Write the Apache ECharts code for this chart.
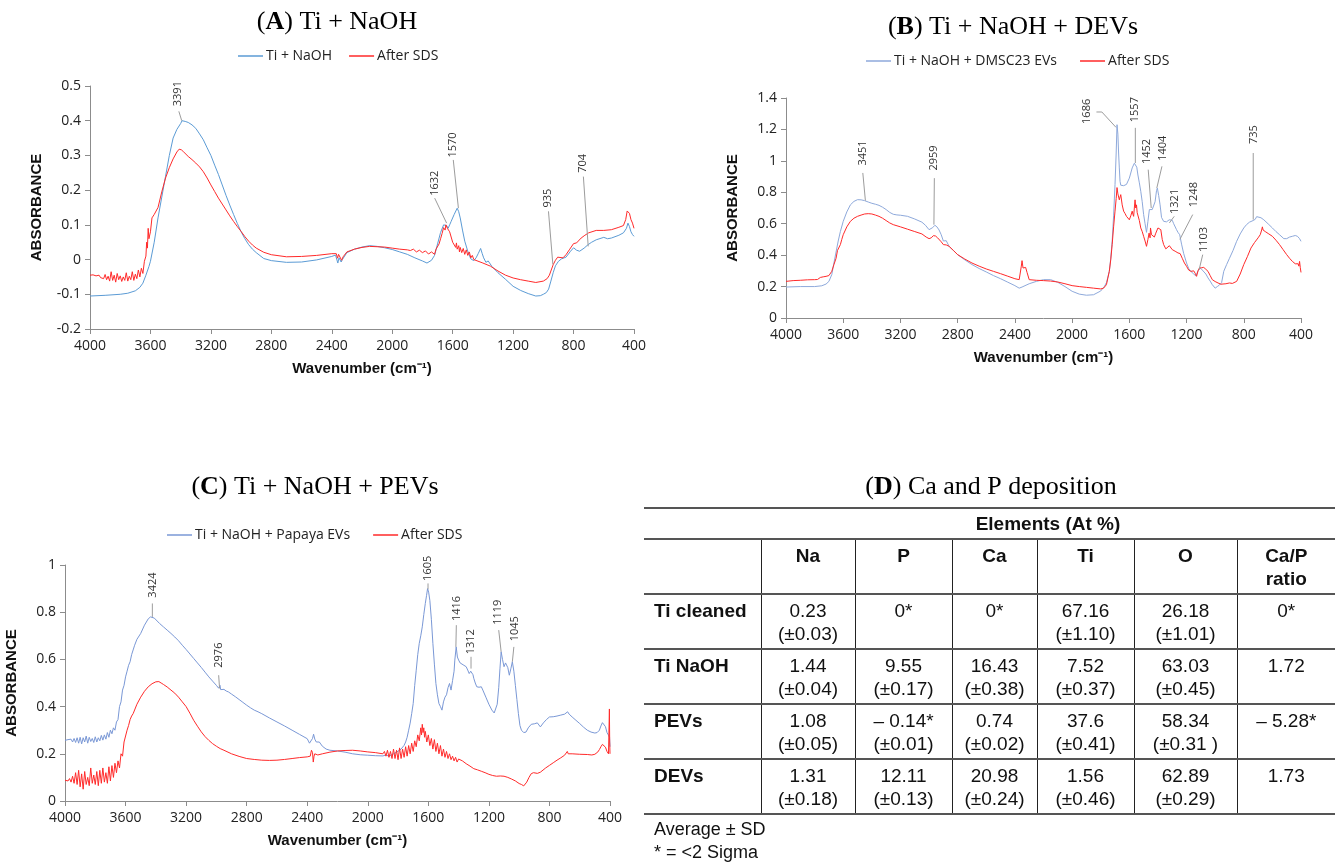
<!DOCTYPE html>
<html>
<head>
<meta charset="utf-8">
<script src="https://cdn.jsdelivr.net/npm/echarts@6/dist/echarts.min.js"></script>
<style>
  html, body { margin: 0; padding: 0; background: #fff; }
  #chart { position: absolute; left: 0; top: 0; width: 1335px; height: 864px; }
  #tbl { position: absolute; left: 644px; top: 507px; border-collapse: collapse;
         font-family: 'Liberation Sans', Arial, sans-serif; font-size: 19px; color: #111; }
  #tbl td { padding: 4px 0 0 0; vertical-align: top; text-align: center; line-height: 23px;
            border-top: 2px solid #555; border-bottom: 2px solid #555; }
  #tbl td + td { border-left: 1px solid #222; }
  #tbl tr.top td { border-left: none; vertical-align: middle; padding: 0; font-weight: bold; }
  #tbl tr.hd td { font-weight: bold; }
  #tbl td.rl { text-align: left; padding-left: 10px; font-weight: bold; }
  .note { position: absolute; left: 654px; font-family: 'Liberation Sans', Arial, sans-serif;
          font-size: 18px; color: #111; }
</style>
</head>
<body>
<div id="chart"></div>
<div id="tblWrap"></div>
<div class="note" style="top:819px">Average ± SD</div>
<div class="note" style="top:842px">* = &lt;2 Sigma</div>
<script>
// ---- (A) Ti + NaOH ----
const aBlue = [[4000,-0.105],[3900,-0.103],[3800,-0.1],[3750,-0.097],[3700,-0.09],[3670,-0.08],[3650,-0.068],[3630,-0.045],[3610,-0.02],[3600,-0.005],[3575,0.05],[3550,0.12],[3525,0.18],[3500,0.24],[3475,0.3],[3450,0.35],[3425,0.375],[3400,0.392],[3391,0.40],[3370,0.398],[3350,0.395],[3325,0.388],[3300,0.378],[3275,0.362],[3250,0.345],[3225,0.322],[3200,0.30],[3175,0.272],[3150,0.245],[3125,0.215],[3100,0.185],[3075,0.157],[3050,0.13],[3025,0.104],[3000,0.08],[2975,0.06],[2950,0.043],[2925,0.03],[2900,0.02],[2850,0.003],[2800,-0.003],[2700,-0.008],[2600,-0.007],[2500,-0.001],[2400,0.009],[2375,0.013],[2365,0.01],[2360,-0.01],[2352,0.005],[2345,0.006],[2338,-0.007],[2330,0.0],[2300,0.02],[2250,0.03],[2200,0.036],[2150,0.04],[2100,0.038],[2050,0.034],[2000,0.029],[1950,0.022],[1900,0.015],[1850,0.005],[1800,-0.004],[1770,-0.01],[1760,-0.012],[1740,-0.002],[1720,0.012],[1700,0.045],[1680,0.078],[1660,0.1],[1650,0.105],[1640,0.098],[1630,0.09],[1620,0.1],[1610,0.11],[1590,0.13],[1570,0.148],[1560,0.138],[1550,0.12],[1535,0.085],[1520,0.053],[1500,0.024],[1480,0.002],[1460,-0.003],[1445,0.005],[1430,0.018],[1415,0.032],[1405,0.018],[1395,0.005],[1380,-0.008],[1365,-0.004],[1355,-0.008],[1340,-0.02],[1300,-0.038],[1250,-0.057],[1200,-0.077],[1150,-0.089],[1100,-0.098],[1050,-0.105],[1020,-0.104],[1000,-0.1],[980,-0.095],[965,-0.085],[950,-0.062],[935,-0.038],[920,-0.018],[900,-0.005],[880,0.002],[850,0.007],[820,0.024],[800,0.034],[780,0.027],[760,0.024],[730,0.033],[704,0.043],[680,0.05],[650,0.057],[600,0.064],[575,0.06],[550,0.062],[500,0.07],[470,0.077],[450,0.09],[440,0.105],[430,0.095],[420,0.08],[410,0.072],[400,0.067]];
const aRed = [[4000,-0.045],[3990,-0.046],[3980,-0.044],[3970,-0.048],[3960,-0.047],[3950,-0.05],[3940,-0.045],[3930,-0.052],[3920,-0.047],[3910,-0.055],[3900,-0.043],[3890,-0.058],[3880,-0.048],[3870,-0.062],[3860,-0.035],[3850,-0.06],[3840,-0.045],[3830,-0.065],[3820,-0.04],[3810,-0.058],[3800,-0.047],[3790,-0.063],[3780,-0.05],[3770,-0.06],[3760,-0.038],[3750,-0.062],[3740,-0.048],[3730,-0.058],[3720,-0.035],[3710,-0.06],[3700,-0.042],[3690,-0.055],[3680,-0.03],[3670,-0.05],[3660,-0.025],[3650,-0.04],[3640,-0.005],[3630,0.01],[3625,0.05],[3620,0.033],[3615,0.09],[3610,0.06],[3600,0.08],[3590,0.12],[3575,0.13],[3550,0.15],[3525,0.195],[3500,0.235],[3475,0.265],[3450,0.29],[3425,0.31],[3410,0.318],[3395,0.316],[3380,0.31],[3350,0.297],[3325,0.288],[3300,0.278],[3275,0.267],[3250,0.253],[3225,0.235],[3200,0.215],[3175,0.196],[3150,0.177],[3125,0.16],[3100,0.143],[3075,0.126],[3050,0.11],[3025,0.095],[3000,0.081],[2975,0.066],[2950,0.053],[2925,0.042],[2900,0.033],[2850,0.021],[2800,0.014],[2700,0.008],[2600,0.009],[2500,0.012],[2400,0.017],[2370,0.017],[2362,0.004],[2355,0.015],[2345,0.012],[2335,-0.002],[2325,0.008],[2300,0.022],[2250,0.03],[2200,0.035],[2150,0.038],[2100,0.037],[2050,0.036],[2000,0.033],[1950,0.03],[1900,0.028],[1880,0.026],[1860,0.03],[1840,0.022],[1820,0.027],[1800,0.02],[1780,0.025],[1760,0.016],[1740,0.022],[1720,0.015],[1710,0.03],[1700,0.028],[1690,0.045],[1680,0.06],[1670,0.075],[1660,0.092],[1650,0.085],[1645,0.1],[1640,0.098],[1635,0.09],[1630,0.095],[1620,0.08],[1610,0.065],[1600,0.05],[1590,0.045],[1580,0.035],[1575,0.048],[1570,0.03],[1560,0.04],[1555,0.022],[1550,0.035],[1540,0.02],[1530,0.032],[1520,0.015],[1510,0.028],[1500,0.012],[1490,0.022],[1480,0.005],[1470,0.012],[1460,0.0],[1450,0.003],[1400,-0.01],[1350,-0.019],[1300,-0.033],[1250,-0.045],[1200,-0.053],[1150,-0.058],[1100,-0.062],[1050,-0.066],[1000,-0.062],[975,-0.055],[960,-0.045],[950,-0.033],[935,-0.015],[920,-0.002],[905,0.007],[890,0.006],[870,0.005],[850,0.014],[825,0.03],[800,0.046],[780,0.048],[750,0.062],[725,0.07],[700,0.077],[650,0.084],[600,0.084],[550,0.086],[500,0.093],[470,0.098],[455,0.115],[445,0.14],[438,0.143],[430,0.133],[420,0.115],[410,0.105],[400,0.09]];
// peak labels: [text, label x, label y, leader line points]
const aPeaks = [
  ['3391', 3417, 0.478, [[3412,0.427],[3393,0.40]]],
  ['1632', 1719, 0.22, [[1719,0.177],[1640,0.105]]],
  ['1570', 1601, 0.33, [[1596,0.287],[1562,0.148]]],
  ['935', 971, 0.177, [[966,0.139],[937,-0.014]]],
  ['704', 740, 0.277, [[735,0.239],[703,0.038]]]
];

// ---- (B) Ti + NaOH + DEVs ----
const bBlue = [[4000,0.197],[3900,0.2],[3800,0.2],[3750,0.205],[3720,0.216],[3700,0.233],[3680,0.276],[3665,0.35],[3650,0.42],[3635,0.49],[3620,0.55],[3600,0.615],[3575,0.675],[3550,0.72],[3525,0.742],[3500,0.753],[3475,0.752],[3451,0.747],[3425,0.738],[3400,0.73],[3375,0.724],[3350,0.717],[3325,0.705],[3300,0.69],[3275,0.672],[3250,0.66],[3225,0.656],[3200,0.654],[3150,0.647],[3100,0.63],[3050,0.61],[3025,0.59],[3000,0.562],[2990,0.56],[2975,0.575],[2959,0.59],[2945,0.58],[2930,0.56],[2915,0.53],[2900,0.49],[2890,0.485],[2880,0.492],[2870,0.48],[2860,0.456],[2830,0.43],[2800,0.403],[2750,0.37],[2700,0.34],[2650,0.315],[2600,0.293],[2550,0.27],[2500,0.25],[2450,0.228],[2400,0.206],[2370,0.19],[2360,0.185],[2350,0.197],[2300,0.218],[2250,0.233],[2200,0.244],[2150,0.244],[2100,0.227],[2050,0.2],[2000,0.17],[1950,0.152],[1900,0.145],[1850,0.148],[1800,0.172],[1775,0.2],[1760,0.225],[1740,0.297],[1730,0.38],[1720,0.488],[1710,0.65],[1700,0.85],[1692,1.05],[1686,1.23],[1680,1.17],[1675,1.05],[1670,0.955],[1665,0.87],[1660,0.845],[1640,0.842],[1620,0.85],[1600,0.89],[1580,0.955],[1565,0.985],[1557,0.99],[1548,0.96],[1540,0.91],[1530,0.86],[1520,0.806],[1510,0.74],[1500,0.658],[1490,0.6],[1480,0.545],[1470,0.615],[1460,0.69],[1452,0.70],[1440,0.69],[1430,0.68],[1420,0.74],[1410,0.81],[1404,0.827],[1395,0.78],[1385,0.72],[1375,0.64],[1360,0.615],[1340,0.612],[1330,0.615],[1321,0.625],[1310,0.63],[1300,0.622],[1290,0.6],[1270,0.562],[1260,0.545],[1248,0.53],[1235,0.47],[1220,0.41],[1200,0.35],[1185,0.315],[1170,0.297],[1150,0.28],[1135,0.268],[1120,0.3],[1110,0.308],[1103,0.318],[1090,0.305],[1080,0.297],[1065,0.28],[1050,0.255],[1035,0.235],[1020,0.212],[1000,0.19],[985,0.2],[970,0.21],[955,0.225],[940,0.297],[920,0.34],[900,0.38],[875,0.43],[850,0.488],[825,0.535],[800,0.573],[780,0.595],[760,0.61],[735,0.62],[720,0.628],[710,0.645],[700,0.635],[680,0.638],[660,0.625],[650,0.615],[625,0.595],[600,0.573],[575,0.55],[550,0.53],[520,0.505],[500,0.505],[480,0.515],[460,0.52],[440,0.525],[425,0.52],[410,0.505],[400,0.488]];
const bRed = [[4000,0.233],[3950,0.238],[3900,0.24],[3850,0.243],[3800,0.244],[3780,0.245],[3770,0.255],[3760,0.258],[3740,0.262],[3720,0.265],[3700,0.27],[3680,0.297],[3665,0.34],[3650,0.38],[3640,0.43],[3630,0.44],[3620,0.467],[3610,0.5],[3600,0.53],[3590,0.54],[3575,0.58],[3550,0.615],[3525,0.635],[3500,0.647],[3475,0.655],[3450,0.662],[3425,0.664],[3400,0.662],[3375,0.655],[3350,0.647],[3325,0.635],[3300,0.62],[3275,0.605],[3250,0.594],[3200,0.58],[3150,0.565],[3100,0.55],[3050,0.535],[3020,0.515],[3000,0.505],[2985,0.51],[2970,0.524],[2955,0.522],[2940,0.51],[2930,0.505],[2915,0.485],[2900,0.467],[2880,0.465],[2860,0.456],[2830,0.43],[2800,0.403],[2750,0.375],[2700,0.35],[2650,0.33],[2600,0.312],[2550,0.297],[2500,0.282],[2450,0.266],[2400,0.25],[2370,0.244],[2355,0.33],[2350,0.365],[2343,0.318],[2335,0.33],[2325,0.322],[2315,0.29],[2300,0.244],[2250,0.24],[2200,0.238],[2150,0.235],[2100,0.229],[2050,0.218],[2000,0.206],[1950,0.2],[1900,0.195],[1850,0.19],[1800,0.185],[1780,0.19],[1760,0.212],[1740,0.297],[1730,0.37],[1720,0.467],[1710,0.58],[1700,0.68],[1692,0.76],[1686,0.83],[1680,0.79],[1675,0.8],[1670,0.752],[1665,0.77],[1660,0.785],[1650,0.72],[1640,0.68],[1630,0.665],[1620,0.647],[1610,0.635],[1600,0.625],[1590,0.65],[1580,0.68],[1575,0.66],[1570,0.647],[1565,0.7],[1560,0.752],[1555,0.7],[1550,0.72],[1545,0.67],[1540,0.66],[1530,0.62],[1520,0.573],[1510,0.55],[1500,0.52],[1490,0.49],[1480,0.456],[1470,0.5],[1462,0.54],[1455,0.51],[1452,0.573],[1445,0.53],[1435,0.52],[1425,0.515],[1415,0.54],[1400,0.573],[1390,0.57],[1380,0.562],[1370,0.5],[1360,0.467],[1345,0.44],[1335,0.445],[1320,0.46],[1310,0.45],[1300,0.435],[1280,0.425],[1260,0.414],[1245,0.41],[1230,0.38],[1215,0.35],[1200,0.329],[1185,0.305],[1170,0.297],[1160,0.3],[1150,0.3],[1140,0.285],[1130,0.265],[1120,0.3],[1110,0.318],[1095,0.32],[1080,0.322],[1065,0.31],[1050,0.297],[1035,0.27],[1020,0.244],[1000,0.232],[980,0.223],[960,0.215],[950,0.212],[925,0.218],[900,0.223],[880,0.22],[870,0.216],[850,0.233],[825,0.28],[800,0.34],[775,0.39],[750,0.445],[725,0.48],[700,0.51],[685,0.53],[675,0.56],[670,0.58],[665,0.56],[650,0.55],[625,0.535],[600,0.52],[575,0.495],[550,0.467],[525,0.435],[500,0.403],[480,0.38],[460,0.36],[440,0.345],[420,0.345],[415,0.33],[410,0.36],[405,0.32],[400,0.29]];
const bPeaks = [
  ['3451', 3463, 1.05, [[3463,0.923],[3445,0.747]]],
  ['2959', 2963, 1.018, [[2963,0.89],[2966,0.594]]],
  ['1686', 1900, 1.315, [[1830,1.311],[1792,1.311],[1693,1.213]]],
  ['1557', 1558, 1.326, [[1558,1.21],[1558,0.986]]],
  ['1452', 1475, 1.06, [[1468,0.944],[1447,0.70]]],
  ['1404', 1364, 1.08, [[1372,0.965],[1408,0.827]]],
  ['1321', 1284, 0.742, [[1286,0.647],[1320,0.605]]],
  ['1248', 1149, 0.785, [[1157,0.658],[1247,0.5]]],
  ['1103', 1079, 0.5, [[1087,0.403],[1112,0.308]]],
  ['735', 729, 1.167, [[734,1.05],[734,0.626]]]
];

// ---- (C) Ti + NaOH + PEVs ----
const cBlue = [[4000,0.257],[3990,0.256],[3980,0.26],[3970,0.255],[3960,0.262],[3950,0.25],[3940,0.265],[3930,0.248],[3920,0.268],[3910,0.245],[3900,0.27],[3890,0.242],[3880,0.268],[3870,0.25],[3860,0.275],[3850,0.245],[3840,0.27],[3830,0.252],[3820,0.265],[3810,0.248],[3800,0.272],[3790,0.25],[3780,0.268],[3770,0.255],[3760,0.278],[3750,0.258],[3740,0.28],[3730,0.262],[3720,0.29],[3710,0.27],[3700,0.3],[3690,0.285],[3680,0.31],[3670,0.3],[3660,0.335],[3650,0.345],[3640,0.4],[3630,0.42],[3620,0.47],[3610,0.49],[3600,0.526],[3590,0.55],[3580,0.575],[3570,0.59],[3560,0.62],[3550,0.64],[3540,0.66],[3525,0.685],[3500,0.71],[3475,0.745],[3450,0.772],[3435,0.78],[3424,0.782],[3410,0.775],[3400,0.767],[3375,0.752],[3350,0.738],[3325,0.724],[3300,0.71],[3275,0.695],[3250,0.679],[3225,0.66],[3200,0.642],[3175,0.623],[3150,0.604],[3125,0.585],[3100,0.566],[3075,0.546],[3050,0.526],[3025,0.508],[3000,0.49],[2985,0.478],[2978,0.472],[2976,0.49],[2972,0.472],[2960,0.472],[2950,0.473],[2935,0.466],[2920,0.462],[2900,0.453],[2875,0.442],[2850,0.43],[2825,0.418],[2800,0.406],[2775,0.395],[2750,0.385],[2725,0.378],[2700,0.37],[2650,0.352],[2600,0.335],[2550,0.318],[2500,0.3],[2450,0.282],[2400,0.264],[2385,0.245],[2375,0.24],[2365,0.265],[2358,0.283],[2350,0.262],[2340,0.25],[2330,0.258],[2320,0.25],[2300,0.232],[2275,0.22],[2250,0.215],[2200,0.212],[2150,0.207],[2100,0.2],[2050,0.196],[2000,0.194],[1950,0.192],[1900,0.191],[1880,0.195],[1860,0.19],[1850,0.198],[1830,0.2],[1810,0.207],[1800,0.215],[1780,0.22],[1760,0.236],[1750,0.25],[1740,0.27],[1730,0.3],[1720,0.33],[1710,0.37],[1700,0.413],[1690,0.49],[1680,0.554],[1670,0.62],[1660,0.668],[1650,0.7],[1640,0.738],[1630,0.79],[1620,0.837],[1612,0.87],[1605,0.9],[1598,0.885],[1590,0.85],[1580,0.77],[1570,0.668],[1560,0.58],[1550,0.498],[1540,0.45],[1530,0.413],[1520,0.4],[1510,0.385],[1500,0.42],[1490,0.44],[1480,0.45],[1470,0.48],[1460,0.498],[1450,0.47],[1440,0.51],[1430,0.55],[1425,0.597],[1416,0.653],[1408,0.61],[1400,0.597],[1390,0.585],[1380,0.583],[1365,0.575],[1350,0.569],[1340,0.555],[1330,0.54],[1320,0.55],[1312,0.556],[1305,0.535],[1300,0.52],[1290,0.5],[1280,0.484],[1265,0.482],[1250,0.484],[1240,0.47],[1220,0.44],[1200,0.41],[1180,0.385],[1165,0.373],[1155,0.378],[1145,0.41],[1135,0.48],[1127,0.56],[1119,0.632],[1110,0.6],[1100,0.569],[1090,0.585],[1085,0.59],[1075,0.565],[1065,0.533],[1055,0.56],[1045,0.59],[1035,0.55],[1025,0.49],[1015,0.43],[1005,0.37],[995,0.32],[985,0.3],[970,0.29],[955,0.292],[940,0.31],[920,0.325],[900,0.327],[880,0.331],[870,0.325],[860,0.314],[850,0.32],[840,0.331],[820,0.345],[800,0.356],[775,0.357],[750,0.36],[725,0.364],[700,0.368],[690,0.37],[680,0.378],[670,0.368],[650,0.356],[625,0.342],[600,0.328],[575,0.313],[550,0.3],[525,0.292],[500,0.288],[485,0.29],[470,0.3],[460,0.318],[450,0.332],[440,0.33],[430,0.315],[420,0.29],[410,0.279],[403,0.27],[400,0.23]];
const cRed = [[4000,0.088],[3990,0.09],[3980,0.085],[3970,0.095],[3960,0.08],[3950,0.105],[3940,0.075],[3930,0.12],[3920,0.07],[3910,0.13],[3900,0.06],[3890,0.115],[3880,0.05],[3870,0.125],[3860,0.07],[3850,0.1],[3840,0.065],[3830,0.14],[3820,0.075],[3810,0.11],[3800,0.07],[3790,0.125],[3780,0.065],[3770,0.13],[3760,0.075],[3750,0.14],[3740,0.08],[3730,0.12],[3720,0.075],[3710,0.145],[3700,0.085],[3690,0.15],[3680,0.1],[3670,0.16],[3660,0.12],[3650,0.17],[3640,0.14],[3630,0.2],[3620,0.19],[3610,0.25],[3600,0.257],[3590,0.3],[3580,0.32],[3570,0.345],[3560,0.36],[3550,0.37],[3525,0.41],[3500,0.44],[3475,0.465],[3450,0.484],[3425,0.497],[3400,0.505],[3380,0.506],[3365,0.5],[3350,0.494],[3325,0.483],[3300,0.47],[3275,0.457],[3250,0.44],[3225,0.42],[3200,0.4],[3175,0.372],[3150,0.342],[3125,0.317],[3100,0.293],[3075,0.273],[3050,0.257],[3025,0.243],[3000,0.232],[2975,0.222],[2950,0.215],[2900,0.2],[2850,0.189],[2800,0.18],[2750,0.176],[2700,0.173],[2650,0.172],[2600,0.173],[2550,0.176],[2500,0.18],[2450,0.184],[2400,0.187],[2380,0.19],[2372,0.215],[2365,0.205],[2360,0.165],[2355,0.19],[2350,0.2],[2330,0.195],[2300,0.2],[2250,0.207],[2200,0.212],[2150,0.214],[2100,0.215],[2050,0.212],[2000,0.208],[1950,0.205],[1900,0.2],[1890,0.21],[1880,0.19],[1870,0.215],[1860,0.185],[1850,0.21],[1840,0.18],[1830,0.22],[1820,0.18],[1810,0.215],[1800,0.175],[1790,0.225],[1780,0.18],[1770,0.22],[1760,0.185],[1750,0.23],[1740,0.19],[1730,0.235],[1720,0.2],[1710,0.245],[1700,0.21],[1690,0.255],[1680,0.23],[1670,0.28],[1660,0.255],[1650,0.31],[1645,0.28],[1640,0.325],[1635,0.29],[1630,0.31],[1625,0.27],[1620,0.295],[1610,0.25],[1600,0.28],[1590,0.235],[1580,0.265],[1570,0.22],[1560,0.26],[1550,0.21],[1540,0.245],[1530,0.2],[1520,0.235],[1510,0.19],[1500,0.22],[1490,0.185],[1480,0.21],[1470,0.18],[1460,0.2],[1450,0.175],[1440,0.19],[1430,0.17],[1420,0.185],[1410,0.165],[1400,0.178],[1375,0.17],[1350,0.158],[1325,0.148],[1300,0.137],[1275,0.132],[1250,0.126],[1225,0.12],[1200,0.113],[1175,0.108],[1150,0.105],[1125,0.106],[1100,0.105],[1075,0.1],[1050,0.093],[1025,0.085],[1000,0.074],[985,0.07],[970,0.064],[960,0.072],[950,0.08],[935,0.1],[920,0.116],[905,0.12],[895,0.118],[880,0.117],[870,0.116],[860,0.122],[850,0.13],[825,0.14],[800,0.151],[775,0.162],[750,0.173],[725,0.183],[700,0.194],[690,0.198],[682,0.21],[676,0.2],[650,0.2],[600,0.198],[550,0.197],[520,0.195],[500,0.198],[480,0.208],[470,0.218],[460,0.23],[450,0.24],[440,0.235],[430,0.228],[420,0.21],[410,0.2],[406,0.198],[404,0.39],[402,0.25],[400,0.2]];
const cPeaks = [
  ['3424', 3417, 0.915, [[3423,0.837],[3423,0.78]]],
  ['2976', 2985, 0.618, [[2985,0.533],[2979,0.477]]],
  ['1605', 1602, 0.986, [[1602,0.922],[1602,0.897]]],
  ['1416', 1410, 0.816, [[1415,0.745],[1418,0.653]]],
  ['1312', 1318, 0.675, [[1318,0.611],[1318,0.561]]],
  ['1119', 1140, 0.8, [[1135,0.724],[1119,0.632]]],
  ['1045', 1030, 0.73, [[1035,0.653],[1045,0.59]]]
];

// ---- (D) table ----
const tableCols = ['Na', 'P', 'Ca', 'Ti', 'O', 'Ca/P<br>ratio'];
const tableRows = [
  ['Ti cleaned', ['0.23', '(±0.03)'], ['0*'], ['0*'], ['67.16', '(±1.10)'], ['26.18', '(±1.01)'], ['0*']],
  ['Ti NaOH', ['1.44', '(±0.04)'], ['9.55', '(±0.17)'], ['16.43', '(±0.38)'], ['7.52', '(±0.37)'], ['63.03', '(±0.45)'], ['1.72']],
  ['PEVs', ['1.08', '(±0.05)'], ['– 0.14*', '(±0.01)'], ['0.74', '(±0.02)'], ['37.6', '(±0.41)'], ['58.34', '(±0.31 )'], ['– 5.28*']],
  ['DEVs', ['1.31', '(±0.18)'], ['12.11', '(±0.13)'], ['20.98', '(±0.24)'], ['1.56', '(±0.46)'], ['62.89', '(±0.29)'], ['1.73']]
];
const colWidths = [117, 94, 97, 85, 97, 103, 98];

let html = '<table id="tbl"><colgroup>' + colWidths.map(w => '<col style="width:' + w + 'px">').join('') + '</colgroup>';
html += '<tr class="top" style="height:31px"><td></td><td colspan="6">Elements (At %)</td></tr>';
html += '<tr class="hd" style="height:55px"><td></td>' + tableCols.map(c => '<td>' + c + '</td>').join('') + '</tr>';
tableRows.forEach(r => {
  html += '<tr style="height:55px"><td class="rl">' + r[0] + '</td>' +
    r.slice(1).map(v => '<td>' + v.join('<br>') + '</td>').join('') + '</tr>';
});
html += '</table>';
document.getElementById('tblWrap').innerHTML = html;

// ---- charts ----
const BLUE_A = '#5b9bd5', BLUE_B = '#8ea9db', BLUE_C = '#7a98d6', RED = '#ff2a2a';
const tickFont = { fontFamily: 'Open Sans', fontSize: 14, color: '#222' };

function xAx(gi) {
  return {
    type: 'value', gridIndex: gi, min: 400, max: 4000, interval: 400, inverse: true,
    name: 'Wavenumber (cm⁻¹)', nameLocation: 'middle', nameGap: 32,
    nameTextStyle: { fontFamily: 'Liberation Sans', fontWeight: 'bold', fontSize: 15, color: '#111' },
    axisLine: { onZero: false, lineStyle: { color: '#8c8c8c', width: 1 } },
    axisTick: { show: true, length: 5, lineStyle: { color: '#8c8c8c' } },
    axisLabel: Object.assign({ margin: 10, formatter: v => String(v) }, tickFont),
    splitLine: { show: false }
  };
}
function yAx(gi, min, max, step) {
  return {
    type: 'value', gridIndex: gi, min: min, max: max, interval: step,
    name: 'ABSORBANCE', nameLocation: 'middle', nameRotate: 90, nameGap: 46,
    nameTextStyle: { fontFamily: 'Liberation Sans', fontWeight: 'bold', fontSize: 15, color: '#111' },
    axisLine: { show: true, onZero: false, lineStyle: { color: '#8c8c8c', width: 1 } },
    axisTick: { show: true, length: 5, lineStyle: { color: '#8c8c8c' } },
    axisLabel: Object.assign({ margin: 9, formatter: v => String(+v.toFixed(1)) }, tickFont),
    splitLine: { show: false }
  };
}
function lineSeries(name, data, color, gi) {
  return {
    type: 'line', name: name, data: data, xAxisIndex: gi, yAxisIndex: gi,
    showSymbol: false, symbol: 'none', smooth: false,
    lineStyle: { color: color, width: 1 }, itemStyle: { color: color },
    emphasis: { disabled: true }
  };
}
function peakSeries(peaks, gi) {
  return {
    type: 'custom', xAxisIndex: gi, yAxisIndex: gi, silent: true, z: 5,
    data: peaks.map(p => [p[1], p[2]]),
    renderItem: function (params, api) {
      const p = peaks[params.dataIndex];
      const pts = p[3].map(q => api.coord(q));
      const c = api.coord([p[1], p[2]]);
      return {
        type: 'group',
        children: [
          { type: 'polyline', shape: { points: pts }, style: { stroke: '#9c9c9c', lineWidth: 1, fill: null } },
          { type: 'text', x: c[0], y: c[1], rotation: Math.PI / 2,
            style: { text: p[0], fill: '#333', fontSize: 11, fontFamily: 'Open Sans', align: 'center', verticalAlign: 'middle' } }
        ]
      };
    }
  };
}
function titleOf(letter, rest, x, y) {
  return {
    text: '({b|' + letter + '}) ' + rest, left: x, top: y, textAlign: 'center', padding: 0,
    textStyle: { fontFamily: 'Liberation Serif', fontSize: 26, fontWeight: 'normal', color: '#000',
      rich: { b: { fontFamily: 'Liberation Serif', fontSize: 26, fontWeight: 'bold', color: '#000' } } }
  };
}
function legendOf(names, x, y, gap) {
  return {
    data: names, left: x, top: y, itemGap: gap, padding: 0, icon: 'rect', itemWidth: 25, itemHeight: 1.5,
    textStyle: { fontFamily: 'Open Sans', fontSize: 14, color: '#222', padding: [0, 0, 0, -2] },
    selectedMode: false
  };
}

const chart = echarts.init(document.getElementById('chart'), null, { renderer: 'canvas' });
chart.setOption({
  animation: false,
  backgroundColor: '#fff',
  title: [
    titleOf('A', 'Ti + NaOH', 337, 9),
    titleOf('B', 'Ti + NaOH + DEVs', 1013, 14),
    titleOf('C', 'Ti + NaOH + PEVs', 315, 474),
    titleOf('D', 'Ca and P deposition', 991, 474)
  ],
  legend: [
    legendOf(['Ti + NaOH', 'After SDS'], 238, 49, 17),
    legendOf(['Ti + NaOH + DMSC23 EVs', 'After SDS'], 866, 54, 23),
    legendOf(['Ti + NaOH + Papaya EVs', 'After SDS'], 167, 528, 23)
  ],
  grid: [
    { left: 90, top: 86, width: 544, height: 243, containLabel: false, outerBoundsMode: 'none' },
    { left: 786, top: 98, width: 515, height: 220, containLabel: false, outerBoundsMode: 'none' },
    { left: 65, top: 565, width: 545, height: 236, containLabel: false, outerBoundsMode: 'none' }
  ],
  xAxis: [xAx(0), xAx(1), xAx(2)],
  yAxis: [yAx(0, -0.2, 0.5, 0.1), yAx(1, 0, 1.4, 0.2), yAx(2, 0, 1, 0.2)],
  series: [
    lineSeries('Ti + NaOH', aBlue, BLUE_A, 0),
    lineSeries('After SDS', aRed, RED, 0),
    peakSeries(aPeaks, 0),
    lineSeries('Ti + NaOH + DMSC23 EVs', bBlue, BLUE_B, 1),
    lineSeries('After SDS', bRed, RED, 1),
    peakSeries(bPeaks, 1),
    lineSeries('Ti + NaOH + Papaya EVs', cBlue, BLUE_C, 2),
    lineSeries('After SDS', cRed, RED, 2),
    peakSeries(cPeaks, 2)
  ]
});
</script>
</body>
</html>
